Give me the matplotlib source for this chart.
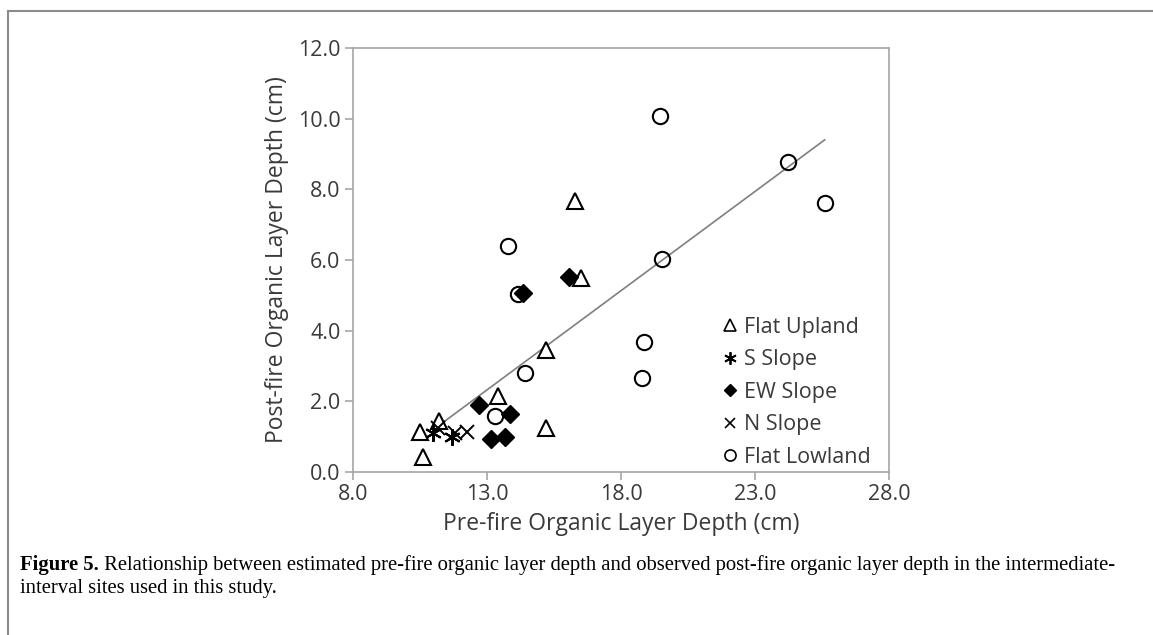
"""
Pre-fire vs post-fire organic layer depth scatter (Figure 5)
"""

import matplotlib.pyplot as plt
from matplotlib.lines import Line2D

# Flat Upland sites
upland_x = [10.5, 10.6, 11.2, 13.4, 15.2, 15.2, 16.5, 16.3]
upland_y = [1.13, 0.42, 1.44, 2.15, 1.25, 3.45, 5.49, 7.67]

# S Slope sites
s_slope_x = [11.0, 11.7]
s_slope_y = [1.10, 0.99]

# EW Slope sites
ew_slope_x = [12.7, 13.86, 13.15, 13.67, 14.34, 16.06]
ew_slope_y = [1.90, 1.64, 0.93, 1.00, 5.07, 5.53]

# N Slope sites
n_slope_x = [11.17, 11.8, 12.25]
n_slope_y = [1.25, 1.10, 1.13]

# Flat Lowland sites
lowland_x = [14.42, 13.3, 13.78, 14.16, 19.53, 18.86, 18.78, 24.23, 25.61, 19.46]
lowland_y = [2.80, 1.58, 6.40, 5.04, 6.03, 3.68, 2.66, 8.77, 7.61, 10.08]

# linear trend line end points
trend_x = [11.0, 25.6]
trend_y = [1.2, 9.4]

x_ticks = [8.0, 13.0, 18.0, 23.0, 28.0]
y_ticks = [0.0, 2.0, 4.0, 6.0, 8.0, 10.0, 12.0]

caption_bold = 'Figure 5.'
caption_line1 = (' Relationship between estimated pre-fire organic layer depth and observed '
                 'post-fire organic layer depth in the intermediate-')
caption_line2 = 'interval sites used in this study.'


def main():
    plt.rcParams['font.family'] = ['Open Sans', 'DejaVu Sans']

    fig = plt.figure(figsize=(11.53, 6.35), dpi=100)
    ax = fig.add_axes([353 / 1153, 1 - 472 / 635, 536 / 1153, 424 / 635])

    ax.plot(trend_x, trend_y, color='#7f7f7f', lw=1.2, zorder=1)

    ms = 10
    ax.plot(upland_x, upland_y, ls='none', marker='^', ms=ms + 1, mfc='white',
            mec='black', mew=1.5, label='Flat Upland', zorder=3)
    ax.plot(s_slope_x, s_slope_y, ls='none', marker=(6, 2, 0), ms=ms + 2,
            mec='black', mew=1.5, label='S Slope', zorder=3)
    ax.plot(ew_slope_x, ew_slope_y, ls='none', marker='D', ms=ms - 1, mfc='black',
            mec='black', label='EW Slope', zorder=3)
    ax.plot(n_slope_x, n_slope_y, ls='none', marker='x', ms=ms, mec='black',
            mew=1.4, label='N Slope', zorder=3)
    ax.plot(lowland_x, lowland_y, ls='none', marker='o', ms=ms + 1, mfc='none',
            mec='black', mew=1.5, label='Flat Lowland', zorder=2)

    ax.set_xlim(8, 28)
    ax.set_ylim(0, 12)
    ax.set_xticks(x_ticks)
    ax.set_yticks(y_ticks)
    ax.set_xticklabels(['%.1f' % v for v in x_ticks])
    ax.set_yticklabels(['%.1f' % v for v in y_ticks])

    for side in ['left', 'bottom', 'top', 'right']:
        ax.spines[side].set_color('#a6a6a6')
        ax.spines[side].set_linewidth(1.2)
    ax.tick_params(direction='out', length=6, width=1.2, color='#a6a6a6',
                   labelsize=15.5, labelcolor='#3a3a3a', pad=3)

    ax.set_xlabel('Pre-fire Organic Layer Depth (cm)', fontsize=16.5,
                  color='#3a3a3a', labelpad=5)
    ax.set_ylabel('Post-fire Organic Layer Depth (cm)', fontsize=16.5,
                  color='#3a3a3a', labelpad=6)

    handles = [
        Line2D([], [], ls='none', marker='^', ms=8, mfc='white', mec='black', mew=1.2),
        Line2D([], [], ls='none', marker=(6, 2, 0), ms=9, mec='black', mew=1.3),
        Line2D([], [], ls='none', marker='D', ms=6.5, mfc='black', mec='black'),
        Line2D([], [], ls='none', marker='x', ms=7, mec='black', mew=1.2),
        Line2D([], [], ls='none', marker='o', ms=8, mfc='none', mec='black', mew=1.2),
    ]
    labels = ['Flat Upland', 'S Slope', 'EW Slope', 'N Slope', 'Flat Lowland']
    leg = ax.legend(handles, labels, loc='lower left', bbox_to_anchor=(0.673, -0.01),
                    frameon=False, fontsize=15.5, handlelength=0.7,
                    handletextpad=0.3, labelspacing=0.53, borderaxespad=0)
    for t in leg.get_texts():
        t.set_color('#3a3a3a')

    # caption below the chart
    cap_font = ['Liberation Serif', 'DejaVu Serif']
    cap_size = 14.9
    t1 = fig.text(20 / 1153, 1 - 565 / 635, caption_bold, fontsize=cap_size,
                  fontweight='bold', family=cap_font, va='center', ha='left')
    fig.canvas.draw()
    bb = t1.get_window_extent()
    x_after = bb.x1 / fig.bbox.width
    fig.text(x_after, 1 - 565 / 635, caption_line1, fontsize=cap_size,
             family=cap_font, va='center', ha='left')
    fig.text(20 / 1153, 1 - 589 / 635, caption_line2, fontsize=cap_size,
             family=cap_font, va='center', ha='left')

    # frame around the figure (top and left edges)
    fig.add_artist(Line2D([8 / 1153, 1.0], [1 - 11 / 635, 1 - 11 / 635],
                          transform=fig.transFigure, color='#8c8c8c', lw=1.5))
    fig.add_artist(Line2D([8 / 1153, 8 / 1153], [0.0, 1 - 11 / 635],
                          transform=fig.transFigure, color='#8c8c8c', lw=1.5))

    fig.savefig('out.png', dpi=100)


if __name__ == '__main__':
    main()
